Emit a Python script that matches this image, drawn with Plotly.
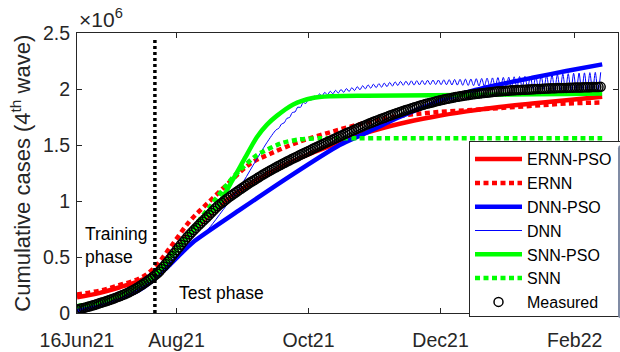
import pandas as pd
import plotly.graph_objects as go

START = pd.Timestamp("2021-06-16")

# ---------------- data (values in millions of cases) ----------------
measured_vals = [
    0.030, 0.035, 0.040, 0.045, 0.050, 0.055, 0.060, 0.066, 0.072, 0.078,
    0.085, 0.091, 0.097, 0.103, 0.110, 0.116, 0.123, 0.130, 0.137, 0.144,
    0.152, 0.160, 0.168, 0.177, 0.186, 0.196, 0.206, 0.217, 0.228, 0.240,
    0.252, 0.265, 0.278, 0.292, 0.306, 0.321, 0.336, 0.352, 0.370, 0.392,
    0.415, 0.437, 0.460, 0.485, 0.510, 0.535, 0.560, 0.585, 0.610, 0.633,
    0.655, 0.678, 0.700, 0.720, 0.740, 0.760, 0.780, 0.799, 0.818, 0.837,
    0.855, 0.875, 0.895, 0.915, 0.935, 0.953, 0.970, 0.985, 1.000, 1.015,
    1.030, 1.044, 1.058, 1.072, 1.085, 1.099, 1.112, 1.125, 1.138, 1.152,
    1.165, 1.177, 1.188, 1.200, 1.212, 1.224, 1.236, 1.247, 1.258, 1.269,
    1.280, 1.291, 1.302, 1.312, 1.322, 1.332, 1.342, 1.352, 1.362, 1.372,
    1.381, 1.391, 1.400, 1.410, 1.419, 1.429, 1.438, 1.447, 1.456, 1.466,
    1.475, 1.484, 1.493, 1.502, 1.511, 1.520, 1.529, 1.538, 1.547, 1.556,
    1.565, 1.574, 1.583, 1.592, 1.600, 1.609, 1.617, 1.626, 1.634, 1.643,
    1.651, 1.659, 1.667, 1.675, 1.683, 1.691, 1.699, 1.707, 1.714, 1.722,
    1.729, 1.737, 1.744, 1.751, 1.758, 1.765, 1.772, 1.779, 1.786, 1.793,
    1.799, 1.806, 1.812, 1.818, 1.824, 1.830, 1.836, 1.842, 1.848, 1.854,
    1.859, 1.865, 1.870, 1.875, 1.880, 1.885, 1.890, 1.895, 1.899, 1.904,
    1.908, 1.912, 1.916, 1.920, 1.924, 1.928, 1.931, 1.935, 1.938, 1.941,
    1.944, 1.947, 1.950, 1.953, 1.955, 1.958, 1.960, 1.963, 1.965, 1.967,
    1.969, 1.971, 1.973, 1.975, 1.977, 1.979, 1.980, 1.982, 1.983, 1.985,
    1.986, 1.988, 1.989, 1.990, 1.991, 1.992, 1.993, 1.994, 1.995, 1.996,
    1.997, 1.998, 1.999, 2.000, 2.001, 2.002, 2.003, 2.004, 2.005, 2.006,
    2.006, 2.007, 2.008, 2.009, 2.009, 2.010, 2.010, 2.011, 2.012, 2.012,
    2.013, 2.013, 2.014, 2.014, 2.015, 2.015, 2.016, 2.016, 2.017, 2.017,
    2.018, 2.018, 2.019,
]
measured_dates = pd.date_range(START, periods=len(measured_vals), freq="D")

ernn_pso_days = [0, 10.6, 19.8, 29.1, 35.5, 42.9, 52.1, 66, 79.8, 93.7, 107.5,
                 118.1, 133.8, 149.1, 164.3, 180, 195.2, 210.4, 226.1, 242.7]
ernn_pso_vals = [0.14, 0.18, 0.23, 0.29, 0.35, 0.50, 0.71, 0.96, 1.15, 1.30, 1.42,
                 1.50, 1.61, 1.69, 1.75, 1.80, 1.84, 1.87, 1.90, 1.93]

ernn_days = [0, 10.6, 19.8, 29.1, 35.5, 42.9, 52.1, 61.4, 70.6, 79.8, 89.1, 102.9,
             118.1, 133.8, 149.1, 164.3, 180, 195.2, 210.4, 226.1, 242.7]
ernn_vals = [0.165, 0.20, 0.25, 0.31, 0.40, 0.58, 0.82, 1.00, 1.17, 1.33, 1.42, 1.53,
             1.62, 1.70, 1.76, 1.79, 1.81, 1.83, 1.85, 1.87, 1.88]

dnn_pso_days = [0, 10.6, 19.8, 29.1, 35.5, 38.3, 42.9, 48, 53.5, 75.2, 98.3, 121.4,
                133.8, 149.1, 164.3, 180, 195.2, 210.4, 226.1, 242.7]
dnn_pso_vals = [0.02, 0.07, 0.13, 0.21, 0.30, 0.35, 0.43, 0.53, 0.63, 0.92, 1.22, 1.50,
                1.61, 1.75, 1.87, 1.97, 2.04, 2.10, 2.16, 2.22]

dnn_days = [0, 10.6, 19.8, 29.1, 35.5, 42.9, 53.5, 58, 62.8, 69, 75.2, 81.4, 87.7]
dnn_vals = [0.02, 0.08, 0.14, 0.22, 0.30, 0.43, 0.62, 0.69, 0.80, 0.96, 1.12, 1.32, 1.52]
# oscillating part of DNN, sampled every 30 hours from day 92
dnn_osc_vals = [
    1.635, 1.649, 1.687, 1.698, 1.738, 1.746, 1.790, 1.795, 1.838, 1.836,
    1.879, 1.871, 1.913, 1.900, 1.938, 1.922, 1.956, 1.938, 1.970, 1.947,
    1.980, 1.957, 1.988, 1.964, 1.996, 1.970, 2.004, 1.977, 2.012, 1.986,
    2.021, 1.993, 2.029, 2.001, 2.037, 2.007, 2.043, 2.012, 2.048, 2.016,
    2.053, 2.021, 2.059, 2.026, 2.064, 2.031, 2.068, 2.033, 2.070, 2.035,
    2.073, 2.035, 2.074, 2.037, 2.076, 2.039, 2.078, 2.040, 2.080, 2.040,
    2.080, 2.039, 2.082, 2.038, 2.083, 2.036, 2.085, 2.035, 2.086, 2.033,
    2.088, 2.031, 2.089, 2.030, 2.092, 2.027, 2.094, 2.025, 2.097, 2.022,
    2.099, 2.020, 2.102, 2.017, 2.104, 2.015, 2.106, 2.012, 2.109, 2.010,
    2.111, 2.008, 2.113, 2.005, 2.116, 2.003, 2.118, 2.001, 2.121, 1.998,
    2.124, 1.994, 2.127, 1.991, 2.131, 1.988, 2.134, 1.984, 2.137, 1.981,
    2.140, 1.979, 2.142, 1.977, 2.144, 1.975, 2.146, 1.973, 2.148, 1.972,
    2.149,
]
dnn_osc_dates = pd.date_range(START + pd.Timedelta(days=92), periods=len(dnn_osc_vals), freq="30h")

snn_pso_days = [0, 10.6, 19.8, 29.1, 35.5, 42.9, 52.1, 59.1, 64.6, 72, 77.5, 83.1, 87.7,
                92.3, 99.7, 108.9, 117, 133.8, 164, 195, 226, 242.7]
snn_pso_vals = [0.06, 0.10, 0.16, 0.25, 0.33, 0.49, 0.70, 0.86, 0.95, 1.19, 1.38, 1.57, 1.68,
                1.76, 1.86, 1.92, 1.935, 1.94, 1.945, 1.95, 1.955, 1.96]

snn_days = [0, 10.6, 19.8, 29.1, 35.5, 42.9, 52.1, 61.4, 72, 83.1, 95.1, 102.9, 112.1,
            130, 180, 242.7]
snn_vals = [0.06, 0.10, 0.16, 0.25, 0.34, 0.50, 0.72, 0.95, 1.21, 1.41, 1.52, 1.55, 1.56,
            1.56, 1.56, 1.56]

split_date = "2021-07-22"
split_line_y = [0, 2.44]

x_range = ["2021-06-16", "2022-02-21"]
x_tick_vals = ["2021-06-16", "2021-08-01", "2021-10-01", "2021-12-01", "2022-02-01"]
x_tick_text = ["16Jun21", "Aug21", "Oct21", "Dec21", "Feb22"]
y_tick_vals = [0, 0.5, 1, 1.5, 2, 2.5]
y_tick_text = ["0", "0.5", "1", "1.5", "2", "2.5"]


def to_dates(days):
    return [START + pd.Timedelta(days=d) for d in days]


FONT = "Liberation Sans, Arial, sans-serif"
DOT = "5px,3.5px"
W = 4.5

fig = go.Figure()
fig.add_trace(go.Scatter(x=to_dates(ernn_pso_days), y=ernn_pso_vals, mode="lines", name="ERNN-PSO",
                         line=dict(color="#FF0000", width=W, shape="spline")))
fig.add_trace(go.Scatter(x=to_dates(ernn_days), y=ernn_vals, mode="lines", name="ERNN",
                         line=dict(color="#FF0000", width=W, dash=DOT, shape="spline")))
fig.add_trace(go.Scatter(x=to_dates(dnn_pso_days), y=dnn_pso_vals, mode="lines", name="DNN-PSO",
                         line=dict(color="#0000FF", width=W, shape="spline", smoothing=0.6)))
fig.add_trace(go.Scatter(x=to_dates(dnn_days) + list(dnn_osc_dates), y=dnn_vals + dnn_osc_vals,
                         mode="lines", name="DNN",
                         line=dict(color="#0000FF", width=1, shape="spline", smoothing=0.8)))
fig.add_trace(go.Scatter(x=to_dates(snn_pso_days), y=snn_pso_vals, mode="lines", name="SNN-PSO",
                         line=dict(color="#00FF00", width=W, shape="spline", smoothing=0.7)))
fig.add_trace(go.Scatter(x=to_dates(snn_days), y=snn_vals, mode="lines", name="SNN",
                         line=dict(color="#00FF00", width=W, dash=DOT, shape="spline", smoothing=0.6)))
fig.add_trace(go.Scatter(x=measured_dates, y=measured_vals, mode="markers", name="Measured",
                         marker=dict(symbol="circle-open", size=9, color="black",
                                     line=dict(width=1.5, color="black"))))
fig.add_trace(go.Scatter(x=[split_date, split_date], y=split_line_y, mode="lines", showlegend=False,
                         line=dict(color="black", width=3.5, dash="3px,3px")))

axis_common = dict(showline=True, linecolor="#262626", linewidth=1, mirror="ticks",
                   ticks="inside", ticklen=5, tickcolor="#262626", showgrid=False, zeroline=False,
                   tickfont=dict(family=FONT, size=19.5, color="#262626"))

fig.update_layout(
    width=620, height=352,
    margin=dict(l=77, r=1, t=33, b=36),
    paper_bgcolor="white", plot_bgcolor="white",
    xaxis=dict(type="date", range=x_range, tickmode="array", ticklabelstandoff=10,
               tickvals=x_tick_vals, ticktext=x_tick_text, **axis_common),
    yaxis=dict(range=[0, 2.5], tickmode="array", tickvals=y_tick_vals, ticktext=y_tick_text,
               ticklabelstandoff=2, **axis_common),
    legend=dict(x=1, y=-0.015, xanchor="right", yanchor="bottom", bgcolor="white",
                bordercolor="#262626", borderwidth=1, itemwidth=47,
                font=dict(family=FONT, size=16, color="black")),
    showlegend=True,
    font=dict(family=FONT, color="black"),
)

fig.add_annotation(text="Cumulative cases (4<sup>th</sup> wave)", xref="paper", yref="paper",
                   x=-0.104, y=0.5, xanchor="center", yanchor="middle", textangle=-90,
                   showarrow=False, font=dict(family=FONT, size=22, color="#262626"))
fig.add_annotation(text="×10<sup>6</sup>", xref="paper", yref="paper", x=0, y=1,
                   xanchor="left", yanchor="bottom", showarrow=False,
                   font=dict(family=FONT, size=21, color="#262626"))
fig.add_annotation(text="Training<br>phase", xref="x", yref="y", x="2021-06-18 18:00", y=0.6,
                   xanchor="left", yanchor="middle", align="left", showarrow=False,
                   font=dict(family=FONT, size=17.5, color="black"))
fig.add_annotation(text="Test phase", xref="x", yref="y", x="2021-08-01 02:00", y=0.177,
                   xanchor="left", yanchor="middle", showarrow=False,
                   font=dict(family=FONT, size=17.5, color="black"))

fig.write_html("out.html")
